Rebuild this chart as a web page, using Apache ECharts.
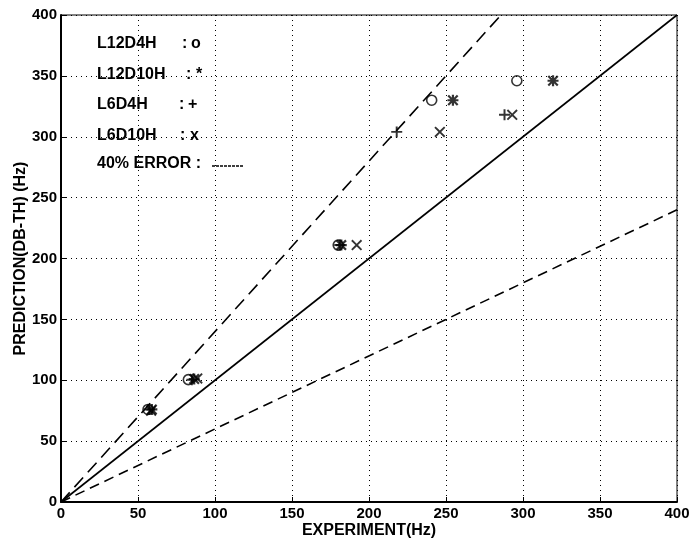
<!DOCTYPE html>
<html>
<head>
<meta charset="utf-8">
<script src="https://cdn.jsdelivr.net/npm/echarts@6/dist/echarts.min.js"></script>
<style>
  html, body { margin: 0; padding: 0; background: #fff; }
  #chart { width: 692px; height: 541px; }
</style>
</head>
<body>
<div id="chart"></div>
<script>
// measured points, [experiment, prediction] in Hz
var l12d4h = [[56.5, 76], [82.7, 100.5], [180, 211], [240.7, 330], [296, 346]];
var l12d10h = [[59, 76], [86.5, 101], [182, 211], [254.5, 330], [319.5, 346]];
var l6d4h = [[57.5, 76], [85, 100.5], [181, 211], [218, 304], [288, 318]];
var l6d10h = [[58.5, 75], [88.5, 101.5], [192, 211], [246, 304], [293, 318]];

// reference lines: y = x and the +/-40% error bounds
var perfectLine = [[0, 0], [400, 400]];
var upperError = [[0, 0], [400 / 1.4, 400]];
var lowerError = [[0, 0], [400, 240]];

var legendRows = [
  { name: "L12D4H", colonX: 182, sym: "o", symX: 191 },
  { name: "L12D10H", colonX: 186, sym: "*", symX: 196 },
  { name: "L6D4H", colonX: 179, sym: "+", symX: 188 },
  { name: "L6D10H", colonX: 180, sym: "x", symX: 190 }
];

var plusPath = "path://M4.1,0H5.9V4.1H10V5.9H5.9V10H4.1V5.9H0V4.1H4.1Z";
var crossPath = "path://M1.2,0L5,3.8L8.8,0L10,1.2L6.2,5L10,8.8L8.8,10L5,6.2L1.2,10L0,8.8L3.8,5L0,1.2Z";
var starPath = "path://M4,0H6V4H10V6H6V10H4V6H0V4H4Z" +
  "M1.4,0L5,3.6L8.6,0L10,1.4L6.4,5L10,8.6L8.6,10L5,6.4L1.4,10L0,8.6L3.6,5L0,1.4Z";

var font = "'Liberation Sans', Arial, sans-serif";

var myChart = echarts.init(document.getElementById("chart"));

var graphics = [];
legendRows.forEach(function(r, i) {
  var y = 45 + i * 30.5;
  graphics.push({
    type: "text", left: 97, top: y - 9,
    style: { text: r.name, font: "bold 16px " + font, fill: "#000" }
  });
  graphics.push({
    type: "text", left: r.colonX, top: y - 9,
    style: { text: ":", font: "bold 16px " + font, fill: "#000" }
  });
  graphics.push({
    type: "text", left: r.symX, top: y - 9,
    style: { text: r.sym, font: "bold 16px " + font, fill: "#000" }
  });
});
graphics.push({
  type: "text", left: 97, top: 156,
  style: { text: "40% ERROR :", font: "bold 16px " + font, fill: "#000" }
});
graphics.push({
  type: "line",
  shape: { x1: 212, y1: 166, x2: 243, y2: 166 },
  style: { stroke: "#000", lineWidth: 1.5, lineDash: [3, 1] }
});

var labelStyle = { fontFamily: font, fontWeight: "bold", fontSize: 15, color: "#000", margin: 4 };
var nameStyle = { fontFamily: font, fontWeight: "bold", fontSize: 16, color: "#000" };

var option = {
  backgroundColor: "#fff",
  animation: false,
  grid: {
    left: 61, right: 15, top: 15, bottom: 39,
    containLabel: false, outerBoundsMode: "none",
    show: true, borderColor: "#000", borderWidth: 1
  },
  xAxis: {
    type: "value", min: 0, max: 400, interval: 50,
    name: "EXPERIMENT(Hz)", nameLocation: "middle", nameGap: 21, nameMoveOverlap: false,
    nameTextStyle: nameStyle,
    axisLine: { show: true, lineStyle: { color: "#000", width: 2 } },
    axisTick: { show: true, inside: true, length: 5, lineStyle: { color: "#000" } },
    axisLabel: labelStyle,
    splitLine: { show: true, lineStyle: { color: "#000", type: [1, 4], width: 1 } }
  },
  yAxis: {
    type: "value", min: 0, max: 400, interval: 50,
    name: "PREDICTION(DB-TH) (Hz)", nameLocation: "middle", nameGap: 32, nameMoveOverlap: false,
    nameTextStyle: nameStyle,
    axisLine: { show: true, lineStyle: { color: "#000", width: 2 } },
    axisTick: { show: true, inside: true, length: 5, lineStyle: { color: "#000" } },
    axisLabel: labelStyle,
    splitLine: { show: true, lineStyle: { color: "#000", type: [1, 4], width: 1 } }
  },
  graphic: graphics,
  series: [
    {
      name: "y=x", type: "line", data: perfectLine, showSymbol: false,
      lineStyle: { color: "#000", width: 1.6 }
    },
    {
      name: "upper", type: "line", data: upperError, showSymbol: false,
      lineStyle: { color: "#000", width: 1.6, type: [13, 7] }
    },
    {
      name: "lower", type: "line", data: lowerError, showSymbol: false,
      lineStyle: { color: "#000", width: 1.6, type: [10, 6] }
    },
    {
      name: "L12D4H", type: "scatter", data: l12d4h, symbol: "circle", symbolSize: 10,
      itemStyle: { color: "transparent", borderColor: "#000", borderWidth: 1.6 }
    },
    {
      name: "L12D10H", type: "scatter", data: l12d10h, symbol: starPath, symbolSize: 11,
      itemStyle: { color: "#000" }
    },
    {
      name: "L6D4H", type: "scatter", data: l6d4h, symbol: plusPath, symbolSize: 11,
      itemStyle: { color: "#000" }
    },
    {
      name: "L6D10H", type: "scatter", data: l6d10h, symbol: crossPath, symbolSize: 11,
      itemStyle: { color: "#000" }
    }
  ]
};
myChart.setOption(option);
</script>
</body>
</html>
